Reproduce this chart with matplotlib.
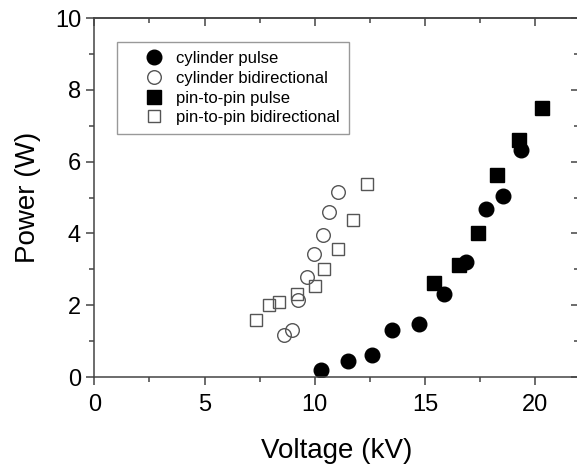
import numpy as np
from matplotlib import pyplot as plt

plt.rcParams['font.family'] = ['Liberation Sans', 'DejaVu Sans']

# Data (voltage in kV, power in W)
cyl_pulse_v = [10.30, 11.49, 12.59, 13.50, 14.74, 15.84, 16.85, 17.77, 18.52, 19.34]
cyl_pulse_p = [0.20, 0.44, 0.60, 1.30, 1.49, 2.31, 3.20, 4.69, 5.05, 6.33]

cyl_bidir_v = [8.60, 8.97, 9.25, 9.65, 9.97, 10.35, 10.66, 11.04]
cyl_bidir_p = [1.18, 1.32, 2.15, 2.80, 3.43, 3.96, 4.60, 5.15]

pin_pulse_v = [15.41, 16.52, 17.39, 18.28, 19.26, 20.29]
pin_pulse_p = [2.61, 3.11, 4.01, 5.62, 6.61, 7.49]

pin_bidir_v = [7.35, 7.92, 8.37, 9.20, 10.00, 10.41, 11.03, 11.75, 12.37]
pin_bidir_p = [1.58, 2.00, 2.09, 2.31, 2.53, 3.01, 3.57, 4.36, 5.39]

fig = plt.figure(figsize=(5.77, 4.68), dpi=100)
ax = fig.add_axes([0.1634, 0.1944, 0.8409, 0.7671])

edge = '#555555'
ax.plot(cyl_pulse_v, cyl_pulse_p, 'o', ms=10.5, color='black', label='cylinder pulse')
ax.plot(cyl_bidir_v, cyl_bidir_p, 'o', ms=9.8, mfc='none', mec=edge, mew=1.0,
        label='cylinder bidirectional')
ax.plot(pin_pulse_v, pin_pulse_p, 's', ms=9.5, color='black', label='pin-to-pin pulse')
ax.plot(pin_bidir_v, pin_bidir_p, 's', ms=9.3, mfc='none', mec=edge, mew=1.0,
        label='pin-to-pin bidirectional')

ax.set_xlim(0, 22)
ax.set_ylim(0, 10)
ax.set_xticks([0, 5, 10, 15, 20])
ax.set_xticks(np.arange(2.5, 22, 5), minor=True)
ax.set_yticks([0, 2, 4, 6, 8, 10])
ax.set_yticks(np.arange(1, 10, 2), minor=True)
ax.tick_params(which='major', direction='out', length=6, width=1.1, labelsize=17, color='#444444')
ax.tick_params(which='minor', direction='out', length=3.5, width=1.1, color='#444444')
ax.tick_params(axis='x', which='major', pad=6)
ax.set_xlabel('Voltage (kV)', fontsize=20, labelpad=16)
ax.set_ylabel('Power (W)', fontsize=20, labelpad=10)
for s in ax.spines.values():
    s.set_linewidth(1.1)
    s.set_color('#444444')

# mirrored axes on top and right with inward ticks
top = ax.secondary_xaxis('top')
top.set_xticks([0, 5, 10, 15, 20])
top.set_xticks(np.arange(2.5, 22, 5), minor=True)
top.tick_params(which='major', direction='in', length=6, width=1.1, labeltop=False, color='#444444')
top.tick_params(which='minor', direction='in', length=3.5, width=1.1, color='#444444')
right = ax.secondary_yaxis('right')
right.set_yticks([0, 2, 4, 6, 8, 10])
right.set_yticks(np.arange(1, 10, 2), minor=True)
right.tick_params(which='major', direction='in', length=6, width=1.1, labelright=False, color='#444444')
right.tick_params(which='minor', direction='in', length=3.5, width=1.1, color='#444444')
for sa in (top, right):
    for s in sa.spines.values():
        s.set_linewidth(1.1)
        s.set_color('#444444')

leg = ax.legend(loc='upper left', bbox_to_anchor=(0.0468, 0.933), borderaxespad=0,
                fontsize=12, numpoints=1, handlelength=3.35, handletextpad=-0.34,
                labelspacing=0.28, borderpad=0.55, fancybox=False, framealpha=1)
leg.get_frame().set_edgecolor('#999999')
leg.get_frame().set_linewidth(1.0)

fig.savefig('out.png', dpi=100)
